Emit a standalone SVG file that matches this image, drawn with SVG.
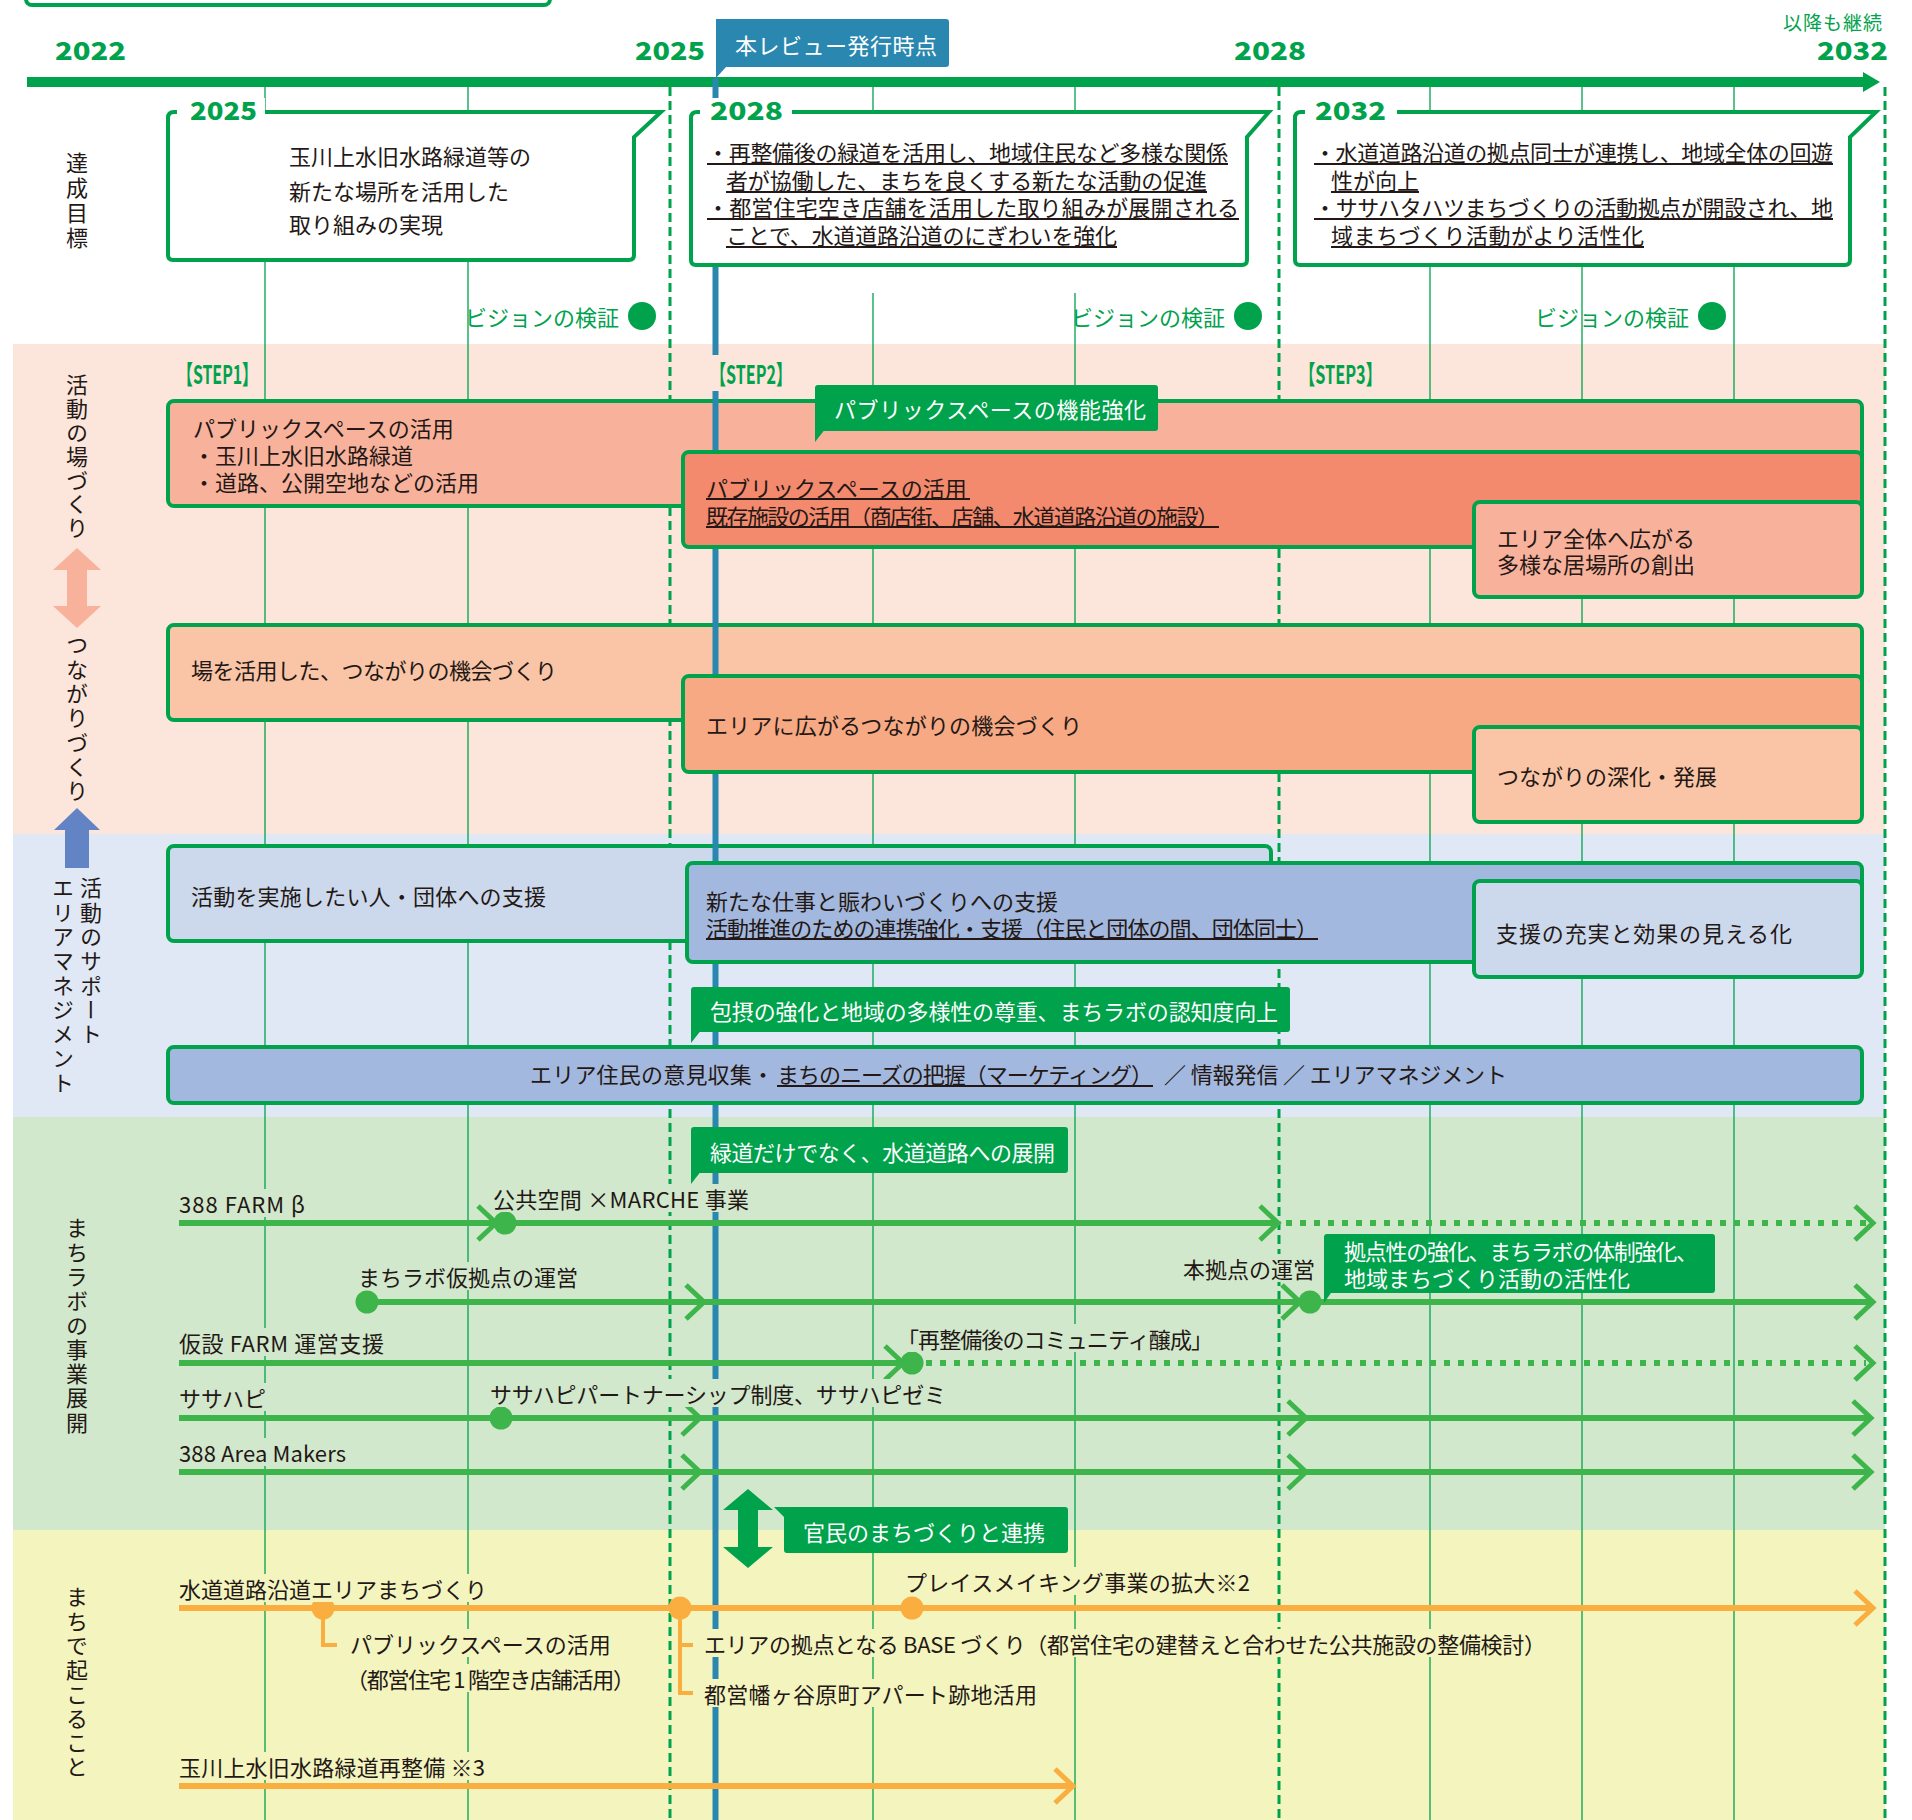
<svg xmlns="http://www.w3.org/2000/svg" width="1912" height="1820" viewBox="0 0 1912 1820">
<defs>
<style>
text{font-family:"Noto Sans CJK JP","Noto Sans CJK SC",sans-serif;font-size:22px;fill:#231815;dominant-baseline:central}
.w{fill:#fff}
.g{fill:#00a24c}
.yr{font-weight:900;font-size:25px;fill:#00a24c;dominant-baseline:alphabetic}
.st{font-weight:bold;font-size:26px;fill:#00a24c}
.vt{writing-mode:vertical-rl;letter-spacing:2.3px}
.bx{stroke:#00a24c;stroke-width:4}
.grid{stroke:#00a24c;stroke-width:1.3}
.dash{stroke:#00a24c;stroke-width:3;stroke-dasharray:9 5;fill:none}
.ul{stroke:#231815;stroke-width:1.8}
.row{stroke:#3db54a;stroke-width:6;fill:none}
.dot{stroke-dasharray:6 8}
.chev{stroke-width:5;stroke-linejoin:miter}
.or{stroke:#f9ae3f}
.tag{fill:#00a24c}
.kg{fill:#d2e8cc}
.ky{fill:#f4f4bf}
</style>
</defs>

<!-- background bands -->
<g id="bands">
<rect x="0" y="0" width="1912" height="1820" fill="#fff"/>
<rect x="13" y="344" width="1872" height="490" fill="#fce5da"/>
<rect x="13" y="834" width="1872" height="283" fill="#e0e8f5"/>
<rect x="13" y="1117" width="1872" height="413" fill="#d2e8cc"/>
<rect x="13" y="1530" width="1872" height="290" fill="#f4f4bf"/>
</g>

<!-- year grid -->
<g id="grid">
<line class="grid" x1="265" y1="87" x2="265" y2="1820"/>
<line class="grid" x1="468" y1="87" x2="468" y2="1820"/>
<line class="grid" x1="873" y1="87" x2="873" y2="112"/>
<line class="grid" x1="873" y1="293" x2="873" y2="1820"/>
<line class="grid" x1="1075" y1="87" x2="1075" y2="112"/>
<line class="grid" x1="1075" y1="293" x2="1075" y2="1820"/>
<line class="grid" x1="1430" y1="87" x2="1430" y2="1820"/>
<line class="grid" x1="1582" y1="87" x2="1582" y2="1820"/>
<line class="grid" x1="1734" y1="87" x2="1734" y2="1820"/>
<line class="dash" x1="670" y1="87" x2="670" y2="1820"/>
<line class="dash" x1="1279" y1="87" x2="1279" y2="1820"/>
<line class="dash" x1="1885" y1="87" x2="1885" y2="1820"/>
</g>

<!-- partly visible frame at the top edge -->
<rect x="26" y="-40" width="524" height="45" rx="6" fill="#fff" class="bx"/>

<!-- timeline axis -->
<g id="axis">
<line x1="27" y1="82" x2="1866" y2="82" stroke="#00a24c" stroke-width="10"/>
<polygon points="1863,72 1880,82 1863,92" fill="#00a24c"/>
<text class="yr" x="55" y="60" textLength="71" lengthAdjust="spacingAndGlyphs">2022</text>
<text class="yr" x="635" y="60" textLength="70" lengthAdjust="spacingAndGlyphs">2025</text>
<text class="yr" x="1234" y="60" textLength="72" lengthAdjust="spacingAndGlyphs">2028</text>
<text class="yr" x="1817" y="60" textLength="71" lengthAdjust="spacingAndGlyphs">2032</text>
<text class="g" x="1783" y="21" style="font-size:19px" textLength="99">以降も継続</text>
</g>

<!-- side labels -->
<g id="side-labels">
<text class="vt" x="77" y="152" style="letter-spacing:3px">達成目標</text>
<text class="vt" x="77" y="374" style="letter-spacing:1.8px">活動の場づくり</text>
<polygon points="77,548 101,570 87,570 87,606 101,606 77,628 53,606 67,606 67,570 53,570" fill="#f8b29c"/>
<text class="vt" x="77" y="634">つながりづくり</text>
<polygon points="77,808 100,830 89,830 89,868 65,868 65,830 54,830" fill="#6384c4"/>
<text class="vt" x="91" y="877">活動のサポート</text>
<text class="vt" x="63" y="877">エリアマネジメント</text>
<text class="vt" x="77" y="1217">まちラボの事業展開</text>
<text class="vt" x="77" y="1586">まちで起こること</text>
</g>

<!-- STEP1 boxes -->
<g id="box-public-space">
<rect class="bx" x="168" y="401" width="1694" height="105" rx="6" fill="#f8b29c"/>
<text x="193" y="427">パブリックスペースの活用</text>
<text x="193" y="454">・玉川上水旧水路緑道</text>
<text x="193" y="481">・道路、公開空地などの活用</text>
</g>
<g id="box-connections">
<rect class="bx" x="168" y="625" width="1694" height="95" rx="6" fill="#fac5a7"/>
<text x="191" y="669" textLength="366">場を活用した、つながりの機会づくり</text>
</g>
<g id="box-support">
<rect class="bx" x="168" y="846" width="1103" height="95" rx="6" fill="#ccd8ec"/>
<text x="191" y="895" textLength="355">活動を実施したい人・団体への支援</text>
</g>

<!-- review date marker -->
<g id="review-marker">
<line x1="715.5" y1="78" x2="715.5" y2="1820" stroke="#2a88b0" stroke-width="6"/>
<path d="M716,19 H946 Q949,19 949,22 V64 Q949,67 946,67 H726 L716,78 Z" fill="#2a88b0"/>
<text class="w" x="735" y="44" textLength="202">本レビュー発行時点</text>
</g>

<!-- step labels -->
<g id="steps">
<text class="st" x="177" y="372" textLength="81" lengthAdjust="spacingAndGlyphs">【STEP1】</text>
<rect x="705" y="355" width="92" height="36" fill="#fce5da"/>
<text class="st" x="710" y="372" textLength="82" lengthAdjust="spacingAndGlyphs">【STEP2】</text>
<text class="st" x="1299" y="372" textLength="83" lengthAdjust="spacingAndGlyphs">【STEP3】</text>
</g>

<!-- STEP2 / STEP3 boxes -->
<g id="box-existing-facilities">
<rect class="bx" x="683" y="452" width="1179" height="95" rx="6" fill="#f3896d"/>
<text x="706" y="487">パブリックスペースの活用</text>
<line class="ul" x1="706" y1="499" x2="970" y2="499"/>
<text x="706" y="515" textLength="513">既存施設の活用（商店街、店舗、水道道路沿道の施設）</text>
<line class="ul" x1="706" y1="527" x2="1219" y2="527"/>
</g>
<g id="box-places">
<rect class="bx" x="1474" y="502" width="388" height="95" rx="6" fill="#f8b29c"/>
<text x="1497" y="537">エリア全体へ広がる</text>
<text x="1497" y="563">多様な居場所の創出</text>
</g>
<g id="tag-function">
<rect class="tag" x="815" y="385" width="343" height="46" rx="3"/>
<polygon class="tag" points="815,428 826,428 815,442"/>
<text class="w" x="834" y="408" textLength="312">パブリックスペースの機能強化</text>
</g>
<g id="box-area-connections">
<rect class="bx" x="683" y="676" width="1179" height="96" rx="6" fill="#f6a983"/>
<text x="706" y="724" textLength="376">エリアに広がるつながりの機会づくり</text>
</g>
<g id="box-deepen">
<rect class="bx" x="1474" y="727" width="388" height="95" rx="6" fill="#fac5a7"/>
<text x="1497" y="775">つながりの深化・発展</text>
</g>
<g id="box-new-work">
<rect class="bx" x="687" y="863" width="1175" height="99" rx="6" fill="#a3b8de"/>
<text x="706" y="900">新たな仕事と賑わいづくりへの支援</text>
<text x="706" y="927" textLength="612">活動推進のための連携強化・支援（住民と団体の間、団体同士）</text>
<line class="ul" x1="706" y1="939" x2="1318" y2="939"/>
</g>
<g id="box-support-visible">
<rect class="bx" x="1474" y="881" width="388" height="96" rx="6" fill="#ccd8ec"/>
<text x="1496" y="932" textLength="296">支援の充実と効果の見える化</text>
</g>
<g id="tag-inclusion">
<rect class="tag" x="691" y="987" width="599" height="45" rx="3"/>
<polygon class="tag" points="691,1029 702,1029 691,1043"/>
<text class="w" x="710" y="1010" textLength="568">包摂の強化と地域の多様性の尊重、まちラボの認知度向上</text>
</g>
<g id="box-area-management">
<rect class="bx" x="168" y="1047" width="1694" height="56" rx="6" fill="#a3b8de"/>
<text x="530" y="1073" textLength="244">エリア住民の意見収集・</text>
<text x="777" y="1073" textLength="376">まちのニーズの把握（マーケティング）</text>
<line class="ul" x1="777" y1="1086" x2="1153" y2="1086"/>
<text x="1164" y="1073" textLength="343">／ 情報発信 ／ エリアマネジメント</text>
</g>

<!-- goal boxes -->
<g id="goal-2025">
<path class="bx" fill="#fff" d="M174,112 H661 L634,137 V255 Q634,260 629,260 H173 Q168,260 168,255 V118 Q168,112 174,112 Z"/>
<rect x="177" y="98" width="88" height="26" fill="#fff"/>
<text class="yr" x="190" y="120" textLength="67" lengthAdjust="spacingAndGlyphs">2025</text>
<text x="289" y="155">玉川上水旧水路緑道等の</text>
<text x="289" y="190">新たな場所を活用した</text>
<text x="289" y="223">取り組みの実現</text>
</g>
<g id="goal-2028">
<path class="bx" fill="#fff" d="M697,112 H1269 L1247,137 V260 Q1247,265 1242,265 H696 Q691,265 691,260 V118 Q691,112 697,112 Z"/>
<rect x="700" y="98" width="92" height="26" fill="#fff"/>
<text class="yr" x="710" y="120" textLength="73" lengthAdjust="spacingAndGlyphs">2028</text>
<text x="707" y="151" textLength="521">・再整備後の緑道を活用し、地域住民など多様な関係</text>
<text x="726" y="179" textLength="481">者が協働した、まちを良くする新たな活動の促進</text>
<text x="707" y="206" textLength="532">・都営住宅空き店舗を活用した取り組みが展開される</text>
<text x="726" y="234" textLength="391">ことで、水道道路沿道のにぎわいを強化</text>
<line class="ul" x1="707" y1="164" x2="1228" y2="164"/>
<line class="ul" x1="726" y1="192" x2="1207" y2="192"/>
<line class="ul" x1="707" y1="219" x2="1239" y2="219"/>
<line class="ul" x1="726" y1="247" x2="1117" y2="247"/>
</g>
<g id="goal-2032">
<path class="bx" fill="#fff" d="M1301,112 H1876 L1850,137 V260 Q1850,265 1845,265 H1300 Q1295,265 1295,260 V118 Q1295,112 1301,112 Z"/>
<rect x="1305" y="98" width="92" height="26" fill="#fff"/>
<text class="yr" x="1315" y="120" textLength="71" lengthAdjust="spacingAndGlyphs">2032</text>
<text x="1314" y="151" textLength="519">・水道道路沿道の拠点同士が連携し、地域全体の回遊</text>
<text x="1331" y="179">性が向上</text>
<text x="1314" y="206" textLength="519">・ササハタハツまちづくりの活動拠点が開設され、地</text>
<text x="1331" y="234" textLength="313">域まちづくり活動がより活性化</text>
<line class="ul" x1="1314" y1="164" x2="1833" y2="164"/>
<line class="ul" x1="1331" y1="192" x2="1419" y2="192"/>
<line class="ul" x1="1314" y1="219" x2="1833" y2="219"/>
<line class="ul" x1="1331" y1="247" x2="1644" y2="247"/>
</g>

<!-- vision checkpoints -->
<g id="checkpoints">
<text class="g" x="619" y="316" text-anchor="end">ビジョンの検証</text>
<circle cx="642" cy="316" r="14" fill="#00a24c"/>
<text class="g" x="1225" y="316" text-anchor="end">ビジョンの検証</text>
<circle cx="1248" cy="316" r="14" fill="#00a24c"/>
<text class="g" x="1689" y="316" text-anchor="end">ビジョンの検証</text>
<circle cx="1712" cy="316" r="14" fill="#00a24c"/>
</g>

<!-- machi-lab business rows -->
<g id="tag-expand">
<rect class="tag" x="691" y="1127" width="377" height="46" rx="3"/>
<polygon class="tag" points="691,1170 702,1170 691,1184"/>
<text class="w" x="710" y="1151" textLength="345">緑道だけでなく、水道道路への展開</text>
</g>
<g id="connectors">
<!-- 388 FARM β -->
<line class="row" x1="179" y1="1223" x2="1278" y2="1223"/>
<path class="row chev" d="M478,1206 L496,1223 L478,1240"/>
<path class="row chev" d="M1260,1206 L1278,1223 L1260,1240"/>
<line class="row dot" x1="1286" y1="1223" x2="1866" y2="1223"/>
<path class="row chev" d="M1855,1206 L1873,1223 L1855,1240"/>
<!-- machi-lab base -->
<line class="row" x1="367" y1="1302" x2="1871" y2="1302"/>
<path class="row chev" d="M686,1285 L704,1302 L686,1319"/>
<path class="row chev" d="M1282,1285 L1300,1302 L1282,1319"/>
<path class="row chev" d="M1855,1285 L1873,1302 L1855,1319"/>
<!-- temporary farm -->
<line class="row" x1="179" y1="1363" x2="903" y2="1363"/>
<path class="row chev" d="M885,1346 L903,1363 L885,1380"/>
<line class="row dot" x1="926" y1="1363" x2="1866" y2="1363"/>
<path class="row chev" d="M1855,1346 L1873,1363 L1855,1380"/>
<!-- sasahapi -->
<line class="row" x1="179" y1="1418" x2="1871" y2="1418"/>
<path class="row chev" d="M682,1401 L700,1418 L682,1435"/>
<path class="row chev" d="M1288,1401 L1306,1418 L1288,1435"/>
<path class="row chev" d="M1853,1401 L1871,1418 L1853,1435"/>
<!-- 388 Area Makers -->
<line class="row" x1="179" y1="1472" x2="1871" y2="1472"/>
<path class="row chev" d="M682,1455 L700,1472 L682,1489"/>
<path class="row chev" d="M1288,1455 L1306,1472 L1288,1489"/>
<path class="row chev" d="M1853,1455 L1871,1472 L1853,1489"/>
<!-- water-road area -->
<line class="row or" x1="179" y1="1608" x2="1871" y2="1608"/>
<path class="row or chev" d="M1855,1591 L1873,1608 L1855,1625"/>
<path class="row or" style="stroke-width:4" d="M323,1608 V1645 H337"/>
<path class="row or" style="stroke-width:4" d="M680,1608 V1693 H693 M680,1645 H693"/>
<!-- green way redevelopment -->
<line class="row or" x1="179" y1="1786" x2="1071" y2="1786"/>
<path class="row or chev" d="M1055,1769 L1073,1786 L1055,1803"/>
</g>
<g id="milestones">
<circle cx="505" cy="1223" r="11.5" fill="#3db54a"/>
<circle cx="367" cy="1302" r="11.5" fill="#3db54a"/>
<circle cx="1310" cy="1302" r="11.5" fill="#3db54a"/>
<circle cx="912" cy="1363" r="11.5" fill="#3db54a"/>
<circle cx="501" cy="1418" r="11.5" fill="#3db54a"/>
<circle cx="323" cy="1608" r="11.5" fill="#f9ae3f"/>
<circle cx="680" cy="1608" r="11.5" fill="#f9ae3f"/>
<circle cx="912" cy="1608" r="11.5" fill="#f9ae3f"/>
</g>
<g id="row-labels">
<!-- label knock-outs so the grid stops behind the words -->
<rect class="kg" x="177" y="1189" width="130" height="28"/>
<rect class="kg" x="491" y="1184" width="260" height="28"/>
<rect class="kg" x="356" y="1262" width="224" height="28"/>
<rect class="kg" x="1181" y="1254" width="136" height="28"/>
<rect class="kg" x="177" y="1328" width="209" height="28"/>
<rect class="kg" x="895" y="1324" width="320" height="28"/>
<rect class="kg" x="177" y="1383" width="92" height="28"/>
<rect class="kg" x="488" y="1379" width="460" height="28"/>
<rect class="kg" x="177" y="1438" width="171" height="28"/>
<text x="179" y="1203" textLength="126">388 FARM β</text>
<text x="493" y="1198" textLength="256">公共空間 ×MARCHE 事業</text>
<text x="358" y="1276">まちラボ仮拠点の運営</text>
<text x="1183" y="1268">本拠点の運営</text>
<text x="179" y="1342" textLength="205">仮設 FARM 運営支援</text>
<text x="897" y="1338" textLength="316">「再整備後のコミュニティ醸成」</text>
<text x="179" y="1397">ササハピ</text>
<text x="490" y="1393" textLength="456">ササハピパートナーシップ制度、ササハピゼミ</text>
<text x="179" y="1452" textLength="167">388 Area Makers</text>
</g>
<g id="tag-base">
<rect class="tag" x="1324" y="1234" width="391" height="59" rx="3"/>
<polygon class="tag" points="1324,1290 1333,1290 1324,1303"/>
<text class="w" x="1344" y="1250" textLength="354">拠点性の強化、まちラボの体制強化、</text>
<text class="w" x="1344" y="1277">地域まちづくり活動の活性化</text>
</g>

<!-- public-private link -->
<g id="link-arrow">
<polygon points="748,1489 773,1510 758,1510 758,1547 773,1547 748,1568 723,1547 738,1547 738,1510 723,1510" fill="#00a24c"/>
<rect class="tag" x="784" y="1507" width="284" height="46" rx="3"/>
<polygon class="tag" points="774,1507 786,1507 786,1519"/>
<text class="w" x="803" y="1531">官民のまちづくりと連携</text>
</g>

<!-- town events -->
<g id="town-labels">
<rect class="ky" x="177" y="1574" width="315" height="28"/>
<rect class="ky" x="903" y="1567" width="349" height="28"/>
<rect class="ky" x="348" y="1629" width="268" height="28"/>
<rect class="ky" x="344" y="1664" width="293" height="28"/>
<rect class="ky" x="702" y="1629" width="846" height="28"/>
<rect class="ky" x="702" y="1679" width="337" height="28"/>
<rect class="ky" x="177" y="1752" width="310" height="28"/>
<text x="179" y="1588">水道道路沿道エリアまちづくり</text>
<text x="905" y="1581" textLength="345">プレイスメイキング事業の拡大※2</text>
<text x="350" y="1643">パブリックスペースの活用</text>
<text x="346" y="1678" textLength="289">（都営住宅 1 階空き店舗活用）</text>
<text x="704" y="1643" textLength="842">エリアの拠点となる BASE づくり（都営住宅の建替えと合わせた公共施設の整備検討）</text>
<text x="704" y="1693" textLength="333">都営幡ヶ谷原町アパート跡地活用</text>
<text x="179" y="1766" textLength="306">玉川上水旧水路緑道再整備 ※3</text>
</g>
</svg>
